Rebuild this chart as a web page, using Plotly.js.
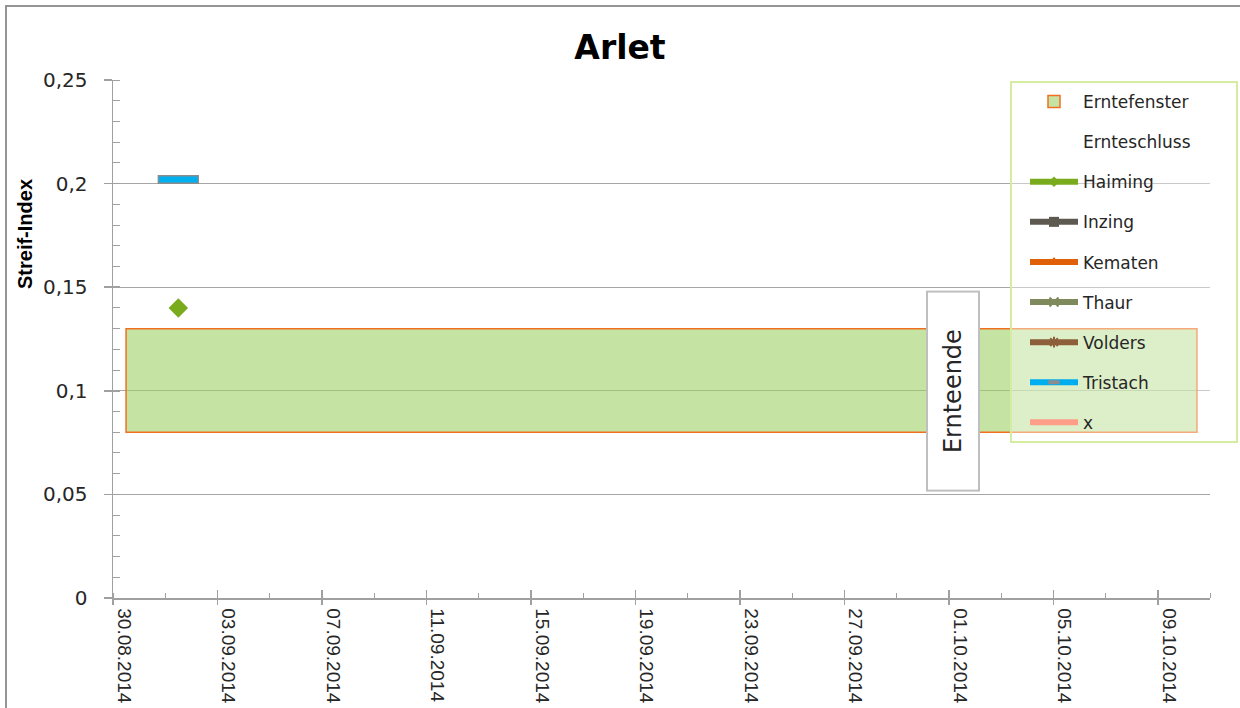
<!DOCTYPE html>
<html><head><meta charset="utf-8">
<script src="https://cdn.plot.ly/plotly-3.0.1.min.js"></script>
<style>html,body{margin:0;padding:0;background:#fff;overflow:hidden}
#chart{width:1240px;height:708px}
#frame{position:absolute;left:5px;top:5px;width:1300px;height:800px;border-left:2px solid #959595;border-top:2px solid #959595;pointer-events:none}
</style></head><body>
<div id="chart"></div><div id="frame"></div>
<script>
// ---- data ----
const chartTitle = 'Arlet';
const yAxisTitle = 'Streif-Index';
const windowName = 'Erntefenster';
const windowDates = ['2014-08-30', '2014-10-10'];
const windowLow = 0.08;
const windowHigh = 0.13;
const harvestEndName = 'Ernteschluss';
const harvestEndDate = ['2014-10-01'];
const harvestEndValue = [0.1];
const harvestEndLabel = 'Ernteende';
const sampleDates = ['2014-09-01'];
const haiming = [0.14];
const inzing = [null];
const kematen = [null];
const thaur = [null];
const volders = [null];
const tristach = [0.202];
const xSeries = [null];
const xRange = ['2014-08-30', '2014-10-11'];
const yRange = [0, 0.25];

const DAY = 86400000;
const gothic = 'DejaVu Sans, Lato, sans-serif';
const per = {xperiod: DAY, xperiodalignment: 'middle'};

let g = 1;
function series(name, values, color, marker) {
  const t = {
    type: 'scatter', name: name, x: sampleDates, y: values,
    mode: marker ? 'lines+markers' : 'lines',
    line: {color: color, width: 6},
    legendgroup: 'g' + g, legendrank: 10 + (g++), hoverinfo: 'skip'
  };
  if (marker) t.marker = marker;
  return Object.assign(t, per);
}

const traces = [
  Object.assign({
    type: 'scatter', name: harvestEndName, x: harvestEndDate, y: harvestEndValue,
    mode: 'lines', line: {color: 'rgba(0,0,0,0)', width: 1}, legendgroup: 'g' + g, legendrank: 10 + (g++), hoverinfo: 'skip'
  }, per),
  series('Haiming', haiming, '#7aab1c', {symbol: 'diamond', size: 8, color: '#7aab1c'}),
  series('Inzing', inzing, '#5e5950', {symbol: 'square', size: 10, color: '#5e5950'}),
  series('Kematen', kematen, '#e0600a', {symbol: 'triangle-up', size: 10, color: '#e0600a'}),
  series('Thaur', thaur, '#7e8a5c', {symbol: 'x-thin', size: 9, color: '#7e8a5c', line: {color: '#7e8a5c', width: 2}}),
  series('Volders', volders, '#8c5f3a', {symbol: 'asterisk', size: 9, color: '#8c5f3a', line: {color: '#8c5f3a', width: 2}}),
  series('Tristach', tristach, '#00aeef', {symbol: 'line-ew', size: 8, color: '#8c8c8c', line: {color: '#8c8c8c', width: 4}}),
  series('x', xSeries, '#ff9e88', null),
  // full-size markers for the plotted points
  Object.assign({
    type: 'scatter', x: sampleDates, y: haiming, mode: 'markers', showlegend: false, hoverinfo: 'skip',
    marker: {symbol: 'diamond', size: 15, color: '#7aab1c'}
  }, per),
  Object.assign({
    type: 'scatter', x: sampleDates, y: tristach, mode: 'markers', showlegend: false, hoverinfo: 'skip',
    marker: {symbol: 'line-ew', size: 29.5, color: '#8c8c8c', line: {color: '#8c8c8c', width: 9}}
  }, per),
  Object.assign({
    type: 'scatter', x: sampleDates, y: tristach, mode: 'markers', showlegend: false, hoverinfo: 'skip',
    marker: {symbol: 'line-ew', size: 27.5, color: '#00b0f0', line: {color: '#00b0f0', width: 6}}
  }, per),
  {type: 'scatter', x: [xRange[0]], y: [null], xaxis: 'x2', yaxis: 'y2', showlegend: false, hoverinfo: 'skip', mode: 'markers'}
];

const axisGray = '#a0a0a0';
const layout = {
  width: 1240, height: 708,
  margin: {l: 113, r: 30, t: 80, b: 110},
  paper_bgcolor: '#fff', plot_bgcolor: '#fff',
  separators: ',.',
  showlegend: true,
  title: {text: chartTitle, font: {family: gothic, size: 33, color: '#000', weight: 'bold'},
          x: 0.5, xref: 'container', y: 1 - 47 / 708, yref: 'container', yanchor: 'middle'},
  xaxis: {
    type: 'date', range: xRange, tick0: xRange[0], dtick: 4 * DAY, tickformat: '%d.%m.%Y',
    tickangle: 90, ticks: 'outside', ticklen: 5, tickwidth: 1.5, tickcolor: axisGray,
    showline: true, linecolor: axisGray, linewidth: 1.5, showgrid: false, zeroline: false,
    minor: {dtick: 2 * DAY, tick0: xRange[0], ticks: 'inside', ticklen: 5, tickwidth: 1, tickcolor: axisGray, showgrid: false},
    ticklabelshift: 11,
    tickfont: {family: 'Liberation Sans, Arial, sans-serif', size: 19, color: '#262626'}
  },
  xaxis2: {type: 'date', range: xRange, tick0: xRange[0], dtick: 4 * DAY, overlaying: 'x', anchor: 'y',
    ticks: 'inside', ticklen: 8, tickwidth: 1.5, tickcolor: axisGray, showticklabels: false,
    showline: false, showgrid: false, zeroline: false},
  yaxis: {
    range: yRange, tick0: 0, dtick: 0.05, ticks: 'outside', ticklen: 8, tickwidth: 1.5, tickcolor: axisGray,
    showline: true, linecolor: axisGray, linewidth: 1.5, showgrid: true, gridcolor: '#a6a6a6', gridwidth: 1,
    zeroline: false, ticklabelstandoff: 12,
    minor: {dtick: 0.01, tick0: 0, ticks: 'inside', ticklen: 7, tickwidth: 1, tickcolor: axisGray, showgrid: false},
    tickfont: {family: gothic, size: 20, color: '#262626'}
  },
  yaxis2: {range: yRange, tick0: 0, dtick: 0.05, overlaying: 'y', anchor: 'x', side: 'left',
    ticks: 'inside', ticklen: 7, tickwidth: 1.5, tickcolor: axisGray, showticklabels: false,
    showline: false, showgrid: false, zeroline: false},
  legend: {
    x: (1025 - 113) / 1097, xanchor: 'left', y: (598 - 84) / 518, yanchor: 'top',
    bgcolor: 'rgba(0,0,0,0)', borderwidth: 0, itemwidth: 48,
    traceorder: 'grouped', tracegroupgap: 15,
    font: {family: gothic, size: 17, color: '#262626'}
  },
  shapes: [
    {type: 'rect', xref: 'x', yref: 'y', layer: 'between',
     x0: windowDates[0] + ' 12:00', x1: windowDates[1] + ' 12:00', y0: windowLow, y1: windowHigh,
     fillcolor: 'rgba(158,210,103,0.6)', line: {color: '#f07020', width: 1.5},
     showlegend: true, name: windowName, legendgroup: 'g0', legendrank: 1},
    {type: 'rect', xref: 'paper', yref: 'paper', layer: 'above',
     x0: (1011 - 113) / 1097, x1: (1237 - 113) / 1097, y0: (598 - 442) / 518, y1: (598 - 82) / 518,
     fillcolor: 'rgba(255,255,255,0.4)', line: {color: '#d5eda0', width: 2}}
  ],
  annotations: [
    {x: harvestEndDate[0], y: harvestEndValue[0], xref: 'x', yref: 'y', xshift: 4,
     text: harvestEndLabel, textangle: -90, showarrow: false,
     font: {family: gothic, size: 24, color: '#262626'},
     bgcolor: '#fff', bordercolor: '#bfbfbf', borderwidth: 2, borderpad: 1, width: 195, height: 48},
    {x: (25 - 113) / 1097, y: (598 - 234) / 518, xref: 'paper', yref: 'paper', xanchor: 'center', yanchor: 'middle',
     text: yAxisTitle, textangle: -90, showarrow: false,
     font: {family: 'Liberation Sans, Arial, sans-serif', size: 20, color: '#000', weight: 'bold'}}
  ]
};

Plotly.newPlot('chart', traces, layout, {staticPlot: true, displayModeBar: false});
</script>
</body></html>
